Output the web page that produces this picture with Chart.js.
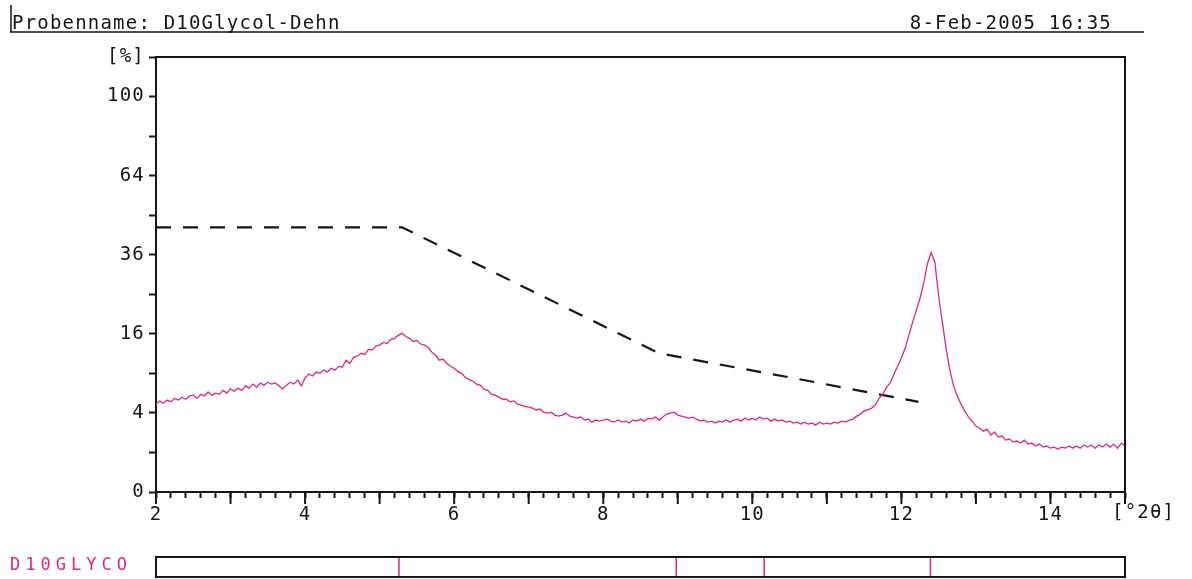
<!DOCTYPE html>
<html>
<head>
<meta charset="utf-8">
<title>D10Glycol-Dehn</title>
<script src="https://cdn.jsdelivr.net/npm/chart.js@4.4.1/dist/chart.umd.min.js"></script>
<style>
  html, body { margin: 0; padding: 0; background: #fff; }
  canvas { display: block; }
</style>
</head>
<body>
<canvas id="xrd" width="1192" height="579"></canvas>
<script>
// scan: 2.00 .. 15.00 deg 2theta, 0.05 deg steps, intensity in %
const scanStart = 2.0;
const scanStep = 0.05;
const intensity = [
  4.94, 5.3, 5.05, 5.4, 5.2, 5.6, 5.4, 5.75, 5.5, 5.9, 6.0, 5.6, 6.1, 5.9, 6.4, 6.0, 6.25, 6.1, 6.6, 6.25,
  6.8, 6.5, 6.9, 6.6, 7.2, 6.9, 7.45, 7.0, 7.6, 7.3, 7.7, 7.45, 7.6, 7.2, 6.8, 7.3, 7.7, 7.45, 8.0, 7.2,
  8.3, 8.9, 8.6, 9.2, 9.0, 9.5, 9.2, 9.8, 9.5, 10.1, 10.0, 11.1, 10.6, 11.6, 11.8, 12.3, 12.1, 13.0, 12.9, 13.6,
  13.8, 14.3, 14.1, 14.9, 15.1, 15.7, 16.1, 15.5, 15.1, 14.5, 14.7, 14.0, 13.8, 13.4, 12.5, 12.0, 11.1, 11.3, 10.6, 10.1,
  9.8, 9.3, 9.0, 8.4, 8.1, 7.85, 7.45, 7.3, 6.75, 6.6, 6.1, 6.0, 5.75, 5.5, 5.5, 5.2, 5.3, 4.94, 4.83, 4.7,
  4.6, 4.5, 4.3, 4.4, 4.08, 3.98, 4.08, 3.78, 3.68, 3.78, 3.98, 3.68, 3.59, 3.49, 3.59, 3.31, 3.40, 3.12, 3.31, 3.21,
  3.31, 3.40, 3.21, 3.12, 3.31, 3.12, 3.21, 3.04, 3.31, 3.21, 3.40, 3.21, 3.49, 3.40, 3.59, 3.31, 3.59, 3.88, 3.98, 4.08,
  3.78, 3.68, 3.59, 3.49, 3.59, 3.40, 3.21, 3.31, 3.12, 3.21, 3.04, 3.21, 3.12, 3.31, 3.12, 3.31, 3.40, 3.21, 3.49, 3.31,
  3.49, 3.31, 3.59, 3.40, 3.49, 3.21, 3.40, 3.21, 3.31, 3.12, 3.21, 3.04, 3.12, 2.95, 3.12, 2.95, 3.04, 2.86, 3.12, 2.95,
  3.04, 2.95, 3.12, 3.04, 3.21, 3.12, 3.31, 3.40, 3.68, 3.88, 4.2, 4.3, 4.5, 4.83, 5.6, 6.1, 7.0, 7.6, 8.9, 10.1,
  11.5, 13.2, 15.7, 18.4, 21.1, 24.0, 27.9, 33.4, 36.7, 33.7, 24.5, 18.4, 13.2, 9.5, 7.2, 5.9, 4.94, 4.2, 3.59, 3.21,
  2.78, 2.6, 2.37, 2.53, 2.07, 2.30, 1.93, 2.0, 1.72, 1.79, 1.59, 1.66, 1.53, 1.72, 1.47, 1.53, 1.35, 1.47, 1.29, 1.35,
  1.23, 1.29, 1.18, 1.29, 1.23, 1.35, 1.23, 1.35, 1.23, 1.41, 1.29, 1.41, 1.23, 1.41, 1.29, 1.47, 1.29, 1.47, 1.23, 1.53,
  1.35
];

// background line (dashed)
const bgAngle = [2.0, 5.3, 8.75, 10.5, 12.23];
const bgLevel = [44.8, 44.8, 12.3, 8.4, 5.2];

// reference pattern D10GLYCO, line positions in deg 2theta
const refLines = [5.26, 8.98, 10.16, 12.39];

const yTickValues = [0, 1, 4, 9, 16, 25, 36, 49, 64, 81, 100, 121];
const yTickLabels = ['0', '', '4', '', '16', '', '36', '', '64', '', '100', '[%]'];
const xTickLabels = [2, 4, 6, 8, 10, 12, 14];

const ink = '#151515';
const magenta = '#d82a86';
const monoFont = '"DejaVu Sans Mono", "Liberation Mono", monospace';
const textGap = '1.2px';

// square-root intensity axis
class SqrtScale extends Chart.LinearScale {
  static id = 'sqrt';
  static defaults = Chart.LinearScale.defaults;
  buildTicks() {
    return yTickValues.map(value => ({ value }));
  }
  configure() {
    super.configure();
    this._startValue = Math.sqrt(this.min);
    this._valueRange = Math.sqrt(this.max) - this._startValue;
  }
  getPixelForValue(value) {
    if (value === null || value === undefined) return NaN;
    return this.getPixelForDecimal((Math.sqrt(Math.max(value, 0)) - this._startValue) / this._valueRange);
  }
  getValueForPixel(pixel) {
    const s = this._startValue + this.getDecimalForPixel(pixel) * this._valueRange;
    return s * s;
  }
}
Chart.register(SqrtScale);

const scan = intensity.map((v, i) => ({ x: scanStart + i * scanStep, y: v }));
const background = bgAngle.map((a, i) => ({ x: a, y: bgLevel[i] }));

const decor = {
  id: 'decor',
  beforeDraw(chart) {
    const c = chart.ctx;
    c.save();
    c.fillStyle = '#fff';
    c.fillRect(0, 0, chart.width, chart.height);
    c.restore();
    c.letterSpacing = textGap;
  },
  afterDraw(chart) {
    const c = chart.ctx;
    const { left, right, top, bottom } = chart.chartArea;
    const xs = chart.scales.x;
    c.save();
    c.strokeStyle = ink;
    c.lineWidth = 2;

    // frame: top and right sides
    c.beginPath();
    c.moveTo(left, top);
    c.lineTo(right, top);
    c.lineTo(right, bottom);
    c.stroke();

    // longer ticks on whole degrees
    c.beginPath();
    xs.ticks.forEach((t, i) => {
      if (Math.abs(t.value - Math.round(t.value)) < 1e-6) {
        const px = xs.getPixelForTick(i);
        c.moveTo(px, bottom);
        c.lineTo(px, bottom + 12);
      }
    });
    c.stroke();

    // header
    c.lineWidth = 1.5;
    c.beginPath();
    c.moveTo(11, 5);
    c.lineTo(11, 32);
    c.moveTo(10, 32);
    c.lineTo(1144, 32);
    c.stroke();
    c.fillStyle = ink;
    c.font = '19px ' + monoFont;
    c.letterSpacing = textGap;
    c.textBaseline = 'alphabetic';
    c.textAlign = 'left';
    c.fillText('Probenname: D10Glycol-Dehn', 12, 29);
    c.textAlign = 'right';
    c.fillText('8-Feb-2005 16:35', 1112, 29);

    // unit of the angle axis
    c.textAlign = 'left';
    c.fillText('[°2θ]', xs.getPixelForValue(15) - 13, 518);

    // reference pattern strip
    const sTop = 557, sBot = 577;
    c.strokeStyle = magenta;
    c.lineWidth = 1.5;
    c.beginPath();
    refLines.forEach(a => {
      const px = xs.getPixelForValue(a);
      c.moveTo(px, sTop);
      c.lineTo(px, sBot);
    });
    c.stroke();
    c.strokeStyle = ink;
    c.lineWidth = 2;
    c.strokeRect(left, sTop, right - left, sBot - sTop);
    c.fillStyle = magenta;
    c.font = '17px ' + monoFont;
    c.letterSpacing = '5px';
    c.fillText('D10GLYCO', 10, 570);
    c.restore();
  }
};

new Chart(document.getElementById('xrd'), {
  type: 'line',
  data: {
    datasets: [
      {
        data: scan,
        borderColor: magenta,
        borderWidth: 1.3,
        pointRadius: 0,
        tension: 0
      },
      {
        data: background,
        borderColor: ink,
        borderWidth: 2.2,
        borderDash: [15, 12],
        pointRadius: 0,
        tension: 0
      }
    ]
  },
  options: {
    responsive: false,
    animation: false,
    events: [],
    layout: { padding: { left: 0, top: 57, right: 67, bottom: 57 } },
    plugins: { legend: { display: false }, tooltip: { enabled: false } },
    scales: {
      x: {
        type: 'linear',
        min: 2,
        max: 15,
        afterFit: s => { s.height = 30; },
        ticks: {
          stepSize: 0.2,
          autoSkip: false,
          maxRotation: 0,
          padding: 6,
          color: ink,
          font: { family: monoFont, size: 19 },
          callback: v => (xTickLabels.includes(Math.round(v * 1000) / 1000) ? String(v) : '')
        },
        grid: { drawOnChartArea: false, tickLength: 6, tickWidth: 2, tickColor: ink },
        border: { color: ink, width: 2 }
      },
      y: {
        type: 'sqrt',
        min: 0,
        max: 121,
        afterFit: s => { s.width = 156; },
        ticks: {
          padding: 4,
          color: ink,
          font: { family: monoFont, size: 19 },
          callback: (v, i) => yTickLabels[i]
        },
        grid: { drawOnChartArea: false, tickLength: 7, tickWidth: 2, tickColor: ink },
        border: { color: ink, width: 2 }
      }
    }
  },
  plugins: [decor]
});
</script>
</body>
</html>
